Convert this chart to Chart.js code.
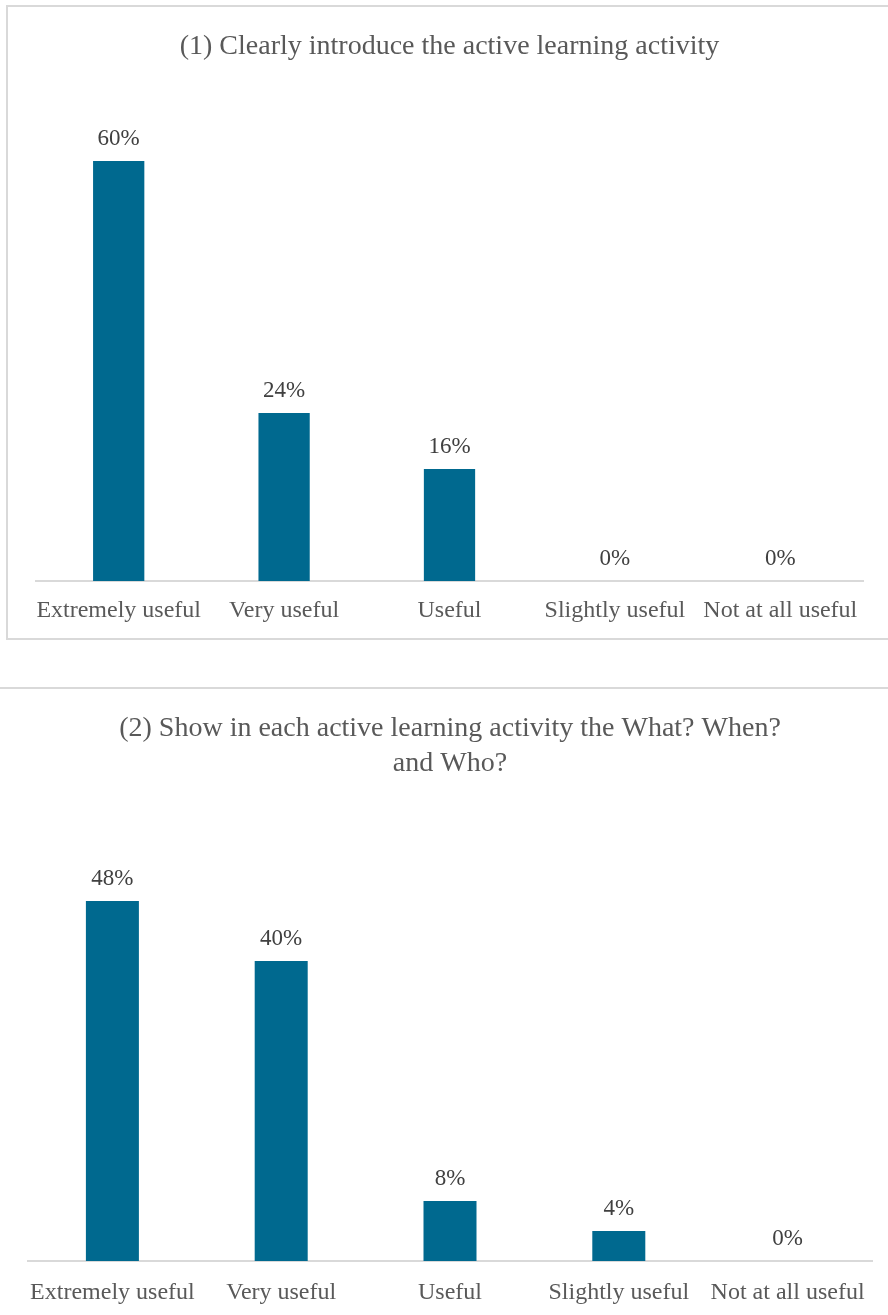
<!DOCTYPE html>
<html>
<head>
<meta charset="utf-8">
<script src="https://cdn.jsdelivr.net/npm/chart.js@4/dist/chart.umd.min.js"></script>
<style>
  html, body { margin: 0; padding: 0; background: #fff; overflow: hidden; }
  body { width: 888px; height: 1315px; position: relative; }
  .frame1 { position: absolute; left: 6px; top: 5px; width: 900px; height: 635px; border: 2px solid #d9d9d9; box-sizing: border-box; }
  .frame2 { position: absolute; left: -10px; top: 687px; width: 910px; height: 700px; border: 2px solid #d9d9d9; box-sizing: border-box; }
  canvas { position: absolute; left: 0; }
  #chart1 { top: 0; }
  #chart2 { top: 690px; }
</style>
</head>
<body>
<div class="frame1"></div>
<div class="frame2"></div>
<canvas id="chart1" width="888" height="650"></canvas>
<canvas id="chart2" width="888" height="625"></canvas>
<script>
const categories = ["Extremely useful", "Very useful", "Useful", "Slightly useful", "Not at all useful"];
const introValues = [60, 24, 16, 0, 0];
const showValues = [48, 40, 8, 4, 0];
const introTitle = "(1) Clearly introduce the active learning activity";
const showTitle = ["(2) Show in each active learning activity the What? When?", "and Who?"];

const barColor = "#00698f";
Chart.defaults.font.family = '"Liberation Serif", "DejaVu Serif", serif';

// draws "NN%" above each bar
const valueLabels = {
    id: "valueLabels",
    afterDatasetsDraw(chart) {
        const ctx = chart.ctx;
        const meta = chart.getDatasetMeta(0);
        const values = chart.data.datasets[0].data;
        ctx.save();
        ctx.font = '23px "Liberation Serif", serif';
        ctx.fillStyle = "#404040";
        ctx.textAlign = "center";
        ctx.textBaseline = "middle";
        meta.data.forEach((bar, i) => {
            ctx.fillText(values[i] + "%", bar.x, bar.y - 22);
        });
        ctx.restore();
    }
};

function makeChart(id, title, values, opts) {
    const ctx = document.getElementById(id).getContext("2d");
    return new Chart(ctx, {
        type: "bar",
        data: {
            labels: categories,
            datasets: [{
                data: values,
                backgroundColor: barColor,
                borderWidth: 0,
                categoryPercentage: 1,
                barPercentage: opts.barPct,
            }],
        },
        options: {
            responsive: false,
            animation: false,
            layout: { padding: { left: opts.left, right: opts.right, top: 0, bottom: 0 } },
            plugins: {
                legend: { display: false },
                tooltip: { enabled: false },
                title: {
                    display: true,
                    text: title,
                    color: "#595959",
                    font: { size: 28, weight: "normal", lineHeight: opts.titleLine },
                    padding: { top: opts.titleTop, bottom: opts.titleBottom },
                },
            },
            scales: {
                x: {
                    grid: { display: false, drawTicks: false },
                    border: { display: true, color: "#d9d9d9", width: 2 },
                    ticks: { color: "#595959", font: { size: 24 }, padding: opts.tickPad, maxRotation: 0, autoSkip: false },
                    afterFit: (scale) => { scale.height = opts.axisHeight; },
                },
                y: {
                    display: false,
                    min: 0,
                    max: opts.max,
                },
            },
        },
        plugins: [valueLabels],
    });
}

makeChart("chart1", introTitle, introValues, {
    barPct: 0.31, left: 36, right: 25,
    titleLine: 1.2, titleTop: 30.2, titleBottom: 27.2,
    tickPad: 15.6, axisHeight: 69, max: 70,
});

makeChart("chart2", showTitle, showValues, {
    barPct: 0.314, left: 28, right: 16,
    titleLine: 1.25, titleTop: 21.5, titleBottom: 29.5,
    tickPad: 17.6, axisHeight: 54, max: 60,
});
</script>
</body>
</html>
